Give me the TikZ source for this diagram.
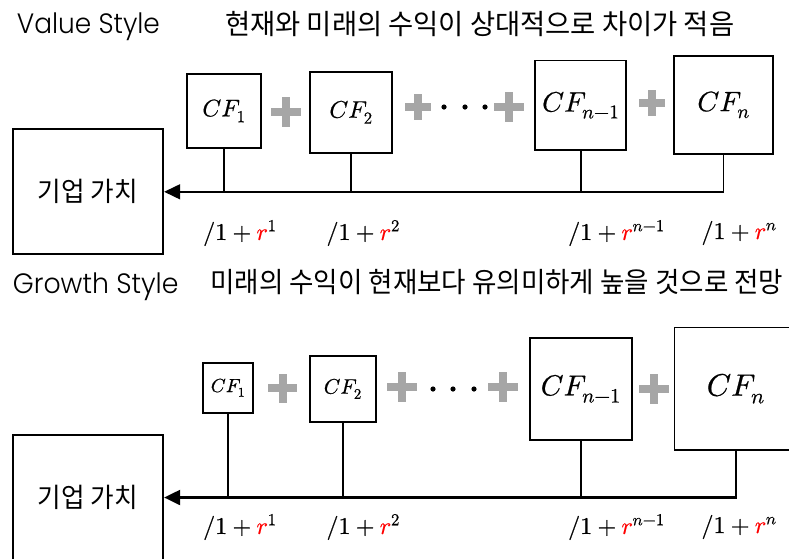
\documentclass[tikz,border=0pt]{standalone}
\usepackage{fontspec}
\usepackage{unicode-math}
\setmathfont{Latin Modern Math}[FakeBold=0.6]
\usepackage{graphicx}
\usetikzlibrary{arrows.meta}
\newfontfamily\krfont{Noto Sans CJK KR}
\newfontfamily\titlefont{Poppins}[UprightFont=* Light]
\definecolor{plusgray}{HTML}{A6A6A6}

\begin{document}
\begin{tikzpicture}[x=1pt,y=-1pt,
  cfbox/.style n args={2}{draw, line width=1.7pt, inner sep=0pt,
    minimum width=#1, minimum height=#2},
  firm/.style={draw, line width=1.7pt, inner sep=0pt,
    minimum width=150.6pt, minimum height=125pt},
  conn/.style={line width=1.6pt},
  mainline/.style={line width=#1, -{Triangle[length=16pt,width=15pt]}},
  lbl/.style={anchor=west, inner sep=0pt, font=\fontsize{24}{26}\selectfont},
  title/.style={anchor=base west, inner sep=0pt},
  pics/plussign/.style={code={
    \fill[plusgray] (-#1/2,-4) rectangle (#1/2,4);
    \fill[plusgray] (-4,-#1/2) rectangle (4,#1/2);}},
  dot/.style={fill=black}
]
\useasboundingbox (0,0) rectangle (789,558);

% ---------- Value style ----------
\node[title] (vtitle) at (16.7,33.3)
  {\resizebox{143pt}{\height}{\titlefont\fontsize{28}{30}\selectfont Value Style}};
\node[title] (vdesc) at (225,34.5)
  {\resizebox{509pt}{\height}{\krfont\fontsize{28}{30}\selectfont 현재와 미래의 수익이 상대적으로 차이가 적음}};

\node[firm] (f1) at (88,191.8)
  {\resizebox{100pt}{\height}{\krfont\fontsize{27}{29}\selectfont 기업 가치}};

\node[cfbox={73.4pt}{73.7pt}] (a1) at (224,110.8) {\fontsize{24}{24}\selectfont $CF_{1}$};
\node[cfbox={81.4pt}{81pt}] (a2) at (351,112.2) {\fontsize{24}{24}\selectfont $CF_{2}$};
\node[cfbox={91pt}{89.7pt}] (a3) at (580.8,105.2) {\fontsize{28}{28}\selectfont $CF_{n-1}$};
\node[cfbox={98.4pt}{98.3pt}] (a4) at (723.5,104.8) {\fontsize{28}{28}\selectfont $CF_{n}$};

\pic at (285.7,112) {plussign=30};
\pic at (418,107) {plussign=26};
\fill[dot] (444,107) circle[radius=2.6pt];
\fill[dot] (465,107) circle[radius=2.6pt];
\fill[dot] (485,107) circle[radius=2.6pt];
\pic at (509.3,107) {plussign=30};
\pic at (652.3,103) {plussign=26};

\draw[mainline=1.6pt] (a4.south) |- (f1.east);
\draw[conn] (a1.south) -- (a1.south |- f1.east);
\draw[conn] (a2.south) -- (a2.south |- f1.east);
\draw[conn] (a3.south) -- (a3.south |- f1.east);

\node[lbl] (ar1) at (203,233) {$/1+\textcolor{red}{r}^{1}$};
\node[lbl] (ar2) at (326.3,233) {$/1+\textcolor{red}{r}^{2}$};
\node[lbl] (ar3) at (568,233) {$/1+\textcolor{red}{r}^{n-1}$};
\node[lbl] (ar4) at (701.3,233) {$/1+\textcolor{red}{r}^{n}$};

% ---------- Growth style ----------
\node[title] (gtitle) at (12.7,293.3)
  {\resizebox{165.6pt}{\height}{\titlefont\fontsize{28}{30}\selectfont Growth Style}};
\node[title] (gdesc) at (210,292.5)
  {\resizebox{573pt}{\height}{\krfont\fontsize{28}{30}\selectfont 미래의 수익이 현재보다 유의미하게 높을 것으로 전망}};

\node[firm] (f2) at (88,497.5)
  {\resizebox{100pt}{\height}{\krfont\fontsize{27}{29}\selectfont 기업 가치}};

\node[cfbox={49.4pt}{50pt}] (b1) at (228,387.7) {\fontsize{19}{19}\selectfont $CF_{1}$};
\node[cfbox={66pt}{65.7pt}] (b2) at (342.8,388.8) {\fontsize{21}{21}\selectfont $CF_{2}$};
\node[cfbox={101.7pt}{102.3pt}] (b3) at (580.8,388.8) {\fontsize{29}{29}\selectfont $CF_{n-1}$};
\node[cfbox={122.7pt}{122.7pt}] (b4) at (735.7,388.7) {\fontsize{31}{31}\selectfont $CF_{n}$};

\pic at (282.5,388) {plussign=29};
\pic at (401.7,387) {plussign=30};
\fill[dot] (433,389) circle[radius=2.6pt];
\fill[dot] (453,389) circle[radius=2.6pt];
\fill[dot] (474,389) circle[radius=2.6pt];
\pic at (502.7,387) {plussign=30};
\pic at (654.3,389) {plussign=30};

\draw[mainline=2.2pt] (b4.south) |- (f2.east);
\draw[conn] (b1.south) -- (b1.south |- f2.east);
\draw[conn] (b2.south) -- (b2.south |- f2.east);
\draw[conn] (b3.south) -- (b3.south |- f2.east);

\node[lbl] (br1) at (203,527) {$/1+\textcolor{red}{r}^{1}$};
\node[lbl] (br2) at (326.3,527) {$/1+\textcolor{red}{r}^{2}$};
\node[lbl] (br3) at (568,527) {$/1+\textcolor{red}{r}^{n-1}$};
\node[lbl] (br4) at (701.3,527) {$/1+\textcolor{red}{r}^{n}$};
\end{tikzpicture}
\end{document}
